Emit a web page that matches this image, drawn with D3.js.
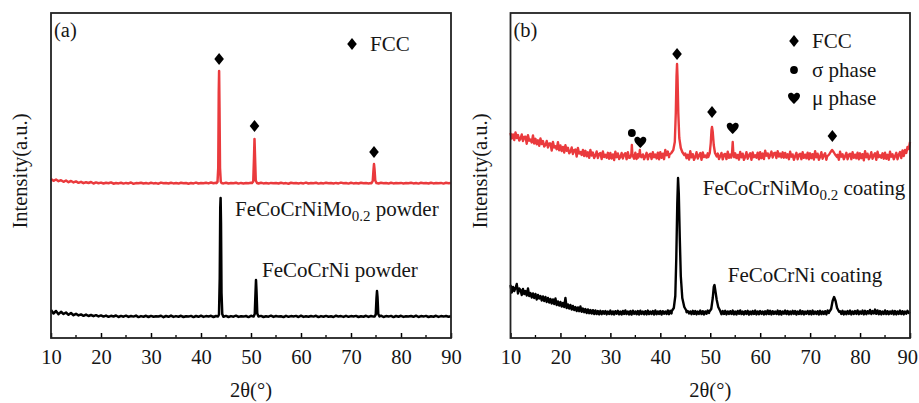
<!DOCTYPE html>
<html><head><meta charset="utf-8">
<script src="https://cdn.jsdelivr.net/npm/d3@7"></script>
<style>
html,body{margin:0;padding:0;background:#fff;}
svg text{font-family:"Liberation Serif","Times New Roman",serif;fill:#161616;}
</style></head>
<body><svg id="c" width="919" height="403"></svg>
<script>
// ---------- DATA ----------
const xTicks = [10,20,30,40,50,60,70,80,90];
const gridStart = 10, gridEnd = 90;     // 2θ range (°)
const stepA = 0.5, stepB = 0.25;        // sampling step of the baseline arrays

// Panel (a) – FeCoCrNiMo0.2 powder (red), 0.5° step
const redA_base = [
1590,1572,1585,1568,1578,1562,1575,1558,1570,1556,
1566,1552,1562,1548,1558,1550,1560,1545,1556,1548,
1554,1545,1552,1547,1556,1543,1550,1546,1553,1544,
1551,1546,1555,1542,1549,1547,1553,1545,1550,1544,
1552,1546,1549,1543,1554,1547,1550,1545,1552,1546,
1549,1544,1553,1547,1550,1543,1551,1546,1554,1545,
1550,1547,1552,1546,1555,1548,1553,1547,1550,1546,
1552,1545,1549,1547,1553,1544,1551,1546,1550,1548,
1553,1548,1550,1545,1552,1546,1549,1544,1551,1547,
1550,1545,1553,1546,1549,1543,1552,1547,1550,1545,
1551,1546,1554,1545,1549,1547,1552,1544,1550,1546,
1553,1547,1549,1545,1551,1546,1554,1548,1550,1544,
1552,1546,1550,1545,1553,1547,1549,1546,1551,1548,
1550,1545,1552,1547,1549,1544,1553,1546,1550,1547,
1551,1545,1549,1548,1553,1546,1550,1544,1552,1547,
1549,1545,1553,1546,1550,1547,1551,1544,1552,1548,
1550];
const redA_peaks = [
 [[43.1,1548],[43.3,1560],[43.45,1700],[43.55,2450],[43.62,2670],[43.7,2300],[43.8,1700],[43.95,1565],[44.1,1550]],
 [[50.2,1549],[50.45,1565],[50.6,1800],[50.7,1990],[50.8,1820],[50.95,1575],[51.2,1550]],
 [[74.1,1548],[74.35,1570],[74.5,1680],[74.6,1740],[74.7,1690],[74.85,1575],[75.1,1549]]
];
// Panel (a) – FeCoCrNi powder (black), 0.5° step
const blackA_base = [
280,245,270,238,262,240,255,232,250,228,
242,226,236,222,234,220,230,218,228,216,
226,214,224,212,222,215,225,210,221,213,
223,211,220,214,224,209,219,213,222,210,
221,212,218,215,223,208,220,212,224,211,
219,213,222,210,218,214,221,209,220,212,
223,211,219,214,222,210,220,213,218,212,
221,210,219,213,223,211,218,214,220,209,
222,212,219,215,221,210,218,213,223,211,
220,214,218,209,222,212,219,215,221,210,
223,211,218,213,220,214,222,209,219,212,
221,213,218,210,223,214,219,211,222,212,
219,215,221,210,218,213,222,211,220,214,
218,212,223,210,219,214,221,209,220,213,
222,211,218,215,220,212,223,210,219,214,
221,210,218,213,222,211,219,214,220,212,
218];
const blackA_peaks = [
 [[43.4,215],[43.6,235],[43.75,600],[43.85,1300],[43.92,1400],[44.0,1150],[44.1,450],[44.25,240],[44.45,216]],
 [[50.5,214],[50.75,240],[50.9,450],[51.0,580],[51.1,470],[51.25,245],[51.5,215]],
 [[74.7,214],[74.95,235],[75.1,400],[75.2,470],[75.3,410],[75.45,240],[75.7,215]]
];
// Panel (b) – FeCoCrNiMo0.2 coating (red), 0.25° step (4 values per degree, 10°..89.75°, then 90°)
const redB_base = [
2050,1995,2035,1980, 2055,2000,2030,1975, 1995,2035,1970,2010, 2013,1943,2028,1973,
1985,1955,2025,1945, 1992,1937,1977,1922, 1995,1940,1970,1915, 1930,1970,1905,1945,
1945,1875,1960,1905, 1918,1888,1958,1878, 1925,1870,1910,1855, 1927,1872,1902,1847,
1865,1905,1840,1880, 1885,1815,1900,1845, 1860,1830,1880,1820, 1872,1817,1857,1802,
1880,1825,1855,1800, 1825,1865,1800,1840, 1850,1790,1865,1810, 1832,1802,1852,1792,
1850,1795,1835,1780, 1862,1808,1845,1790, 1812,1850,1795,1835, 1848,1788,1858,1802,
1828,1803,1846,1793, 1853,1790,1838,1784, 1860,1815,1836,1788, 1818,1852,1786,1833,
1842,1790,1857,1808, 1834,1796,1853,1787, 1858,1802,1843,1788, 1880,1828,1864,1808,
1848,1882,1824,1862, 1878,1822,1892,1842, 1834,1804,1852,1792, 1846,1798,1832,1785,
1868,1806,1838,1781, 1811,1858,1794,1827, 1849,1782,1856,1809, 1826,1804,1847,1793,
1853,1791,1839,1783, 1858,1813,1844,1789, 1819,1851,1786,1834, 1841,1789,1863,1802,
1835,1797,1846,1794, 1847,1799,1831,1784, 1861,1807,1843,1781, 1812,1859,1793,1826,
1848,1781,1855,1808, 1827,1803,1854,1786, 1858,1798,1844,1789, 1872,1823,1846,1798,
1830,1864,1805,1846, 1853,1800,1868,1814, 1844,1806,1857,1803, 1851,1803,1837,1788,
1862,1813,1836,1782, 1818,1852,1787,1833, 1842,1788,1857,1801, 1833,1797,1853,1787,
1847,1798,1838,1784, 1868,1807,1843,1782, 1812,1858,1793,1827, 1848,1782,1863,1808,
1827,1803,1847,1793, 1853,1792,1832,1783, 1862,1813,1837,1788, 1818,1852,1787,1833,
1842,1788,1857,1802, 1833,1797,1853,1787, 1847,1798,1838,1777, 1868,1807,1843,1788,
1812,1858,1793,1827, 1848,1782,1863,1808, 1827,1803,1847,1793, 1853,1792,1832,1783,
1862,1813,1837,1788, 1818,1852,1787,1833, 1860,1800,1875,1820, 1880,1850,1910,1890,
1960];
const redB_peaks = [
 [[34.0,1805],[34.2,1840],[34.3,1930],[34.4,1840],[34.6,1810]],
 [[35.6,1805],[35.8,1830],[35.9,1880],[36.0,1830],[36.2,1808]],
 [[41.8,1830],[42.2,1850],[42.6,1880],[42.9,1960],[43.1,2250],[43.25,2620],[43.35,2740],[43.45,2600],[43.6,2250],[43.8,2000],[44.1,1900],[44.4,1860],[44.8,1830]],
 [[49.6,1810],[49.9,1850],[50.1,1950],[50.25,2080],[50.35,2110],[50.5,2060],[50.7,1930],[50.95,1850],[51.3,1815]],
 [[54.2,1805],[54.35,1840],[54.5,1960],[54.62,1850],[54.8,1808]],
 [[73.4,1815],[73.8,1835],[74.1,1860],[74.4,1880],[74.7,1860],[75.0,1835],[75.4,1810]]
];
// Panel (b) – FeCoCrNi coating (black), 0.25° step
const blackB_base = [
530,455,510,470, 500,540,445,495, 480,430,490,440, 470,425,495,420,
450,405,445,400, 440,385,430,395, 420,375,415,370, 410,360,400,355,
390,345,385,340, 395,330,365,325, 360,315,350,310, 400,300,335,295,
330,285,320,280, 310,270,305,268, 315,262,295,258, 290,250,285,248,
280,245,278,240, 275,240,270,236, 272,238,268,242, 270,236,265,240,
274,238,266,235, 268,242,272,237, 265,235,270,240, 276,240,264,236,
269,234,273,241, 266,238,270,235, 273,240,265,237, 268,236,274,239,
264,241,270,235, 275,238,266,240, 270,235,268,242, 265,240,276,238,
272,245,280,260, 270,240,268,242, 266,238,272,240, 275,258,270,245,
266,238,272,240, 270,236,265,241, 274,239,268,235, 266,242,275,250,
270,240,268,242, 266,238,272,240, 265,238,270,240, 272,236,266,241,
268,240,274,237, 265,235,270,242, 276,239,264,236, 268,241,272,235,
264,238,270,240, 274,236,266,238, 270,241,265,235, 267,238,275,240,
272,236,268,241, 265,240,274,237, 270,235,266,242, 274,240,270,236,
266,238,272,241, 270,235,265,240, 276,239,268,236, 264,242,271,238,
269,236,274,240, 265,241,268,235, 272,238,266,240, 268,236,275,250,
270,240,268,242, 266,238,272,240, 268,240,272,236, 265,238,270,241,
274,236,266,240, 270,241,276,238, 266,242,274,237, 272,238,268,245,
280,240,270,246, 284,242,276,238, 270,236,265,241, 276,240,268,238,
266,242,272,237, 270,236,266,241, 274,240,268,236, 265,242,272,250,
262];
const blackB_peaks = [
 [[42.3,270],[42.7,300],[43.0,420],[43.2,800],[43.4,1350],[43.55,1600],[43.7,1450],[43.9,1000],[44.1,620],[44.4,400],[44.8,310],[45.2,275]],
 [[49.8,262],[50.2,290],[50.5,400],[50.7,510],[50.85,530],[51.0,480],[51.3,380],[51.6,310],[52.0,270]],
 [[73.8,258],[74.2,290],[74.5,370],[74.8,410],[75.1,370],[75.4,300],[75.8,262]]
];
// phase markers [2θ, intensity]
const fccA = [[43.62,2790],[50.7,2120],[74.6,1860]];
const fccB = [[43.35,2840],[50.35,2260],[74.45,2020]];
const sigmaB = [[34.3,2050]];
const muB = [[36.0,1960],[54.5,2100]];

// ---------- LAYOUT ----------
const svg = d3.select("#c");
const red = "#ea3a3d";
const W = 919;
const panels = [
  {left:51, right:451, letter:"(a)", ylabX:20,
   series:[{base:redA_base,step:stepA,peaks:redA_peaks,color:red,w:2.5},{base:blackA_base,step:stepA,peaks:blackA_peaks,color:"#000",w:2.5}],
   labels:[{x:46.8,y:1220,main:"FeCoCrNiMo",sub:"0.2",rest:" powder"},{x:52.2,y:613,main:"FeCoCrNi powder"}],
   markers:[{pts:fccA,type:"diamond"}],
   legend:[{type:"diamond",label:"FCC",dx:352,dy:44}]
  },
  {left:510.5, right:910, letter:"(b)", ylabX:480,
   series:[{base:redB_base,step:stepB,peaks:redB_peaks,color:red,w:2.4},{base:blackB_base,step:stepB,peaks:blackB_peaks,color:"#000",w:2.4}],
   labels:[{x:48.5,y:1430,main:"FeCoCrNiMo",sub:"0.2",rest:" coating"},{x:53.5,y:563,main:"FeCoCrNi coating"}],
   markers:[{pts:fccB,type:"diamond"},{pts:sigmaB,type:"circle"},{pts:muB,type:"heart"}],
   legend:[{type:"diamond",label:"FCC",dx:794,dy:41},{type:"circle",label:"σ phase",dx:794,dy:70},{type:"heart",label:"μ phase",dx:794,dy:98}]
  }
];
const plotTop = 13, plotBottom = 338;

function buildSeries(base, step, peaks){
  let pts = base.map((v,i)=>[gridStart + i*step, v]);
  peaks.forEach(pk=>{
    const lo = pk[0][0], hi = pk[pk.length-1][0];
    pts = pts.filter(p=>p[0] < lo || p[0] > hi);
    pts = pts.concat(pk);
  });
  return pts.sort((a,b)=>a[0]-b[0]);
}

function drawMarker(g, type, cx, cy){
  if(type==="diamond"){
    g.append("path").attr("d",`M${cx},${cy-6} L${cx+4.8},${cy} L${cx},${cy+6} L${cx-4.8},${cy} Z`).attr("fill","#000");
  } else if(type==="circle"){
    g.append("circle").attr("cx",cx).attr("cy",cy).attr("r",3.9).attr("fill","#000");
  } else {
    const s=1.0;
    g.append("path").attr("d",
      `M${cx},${cy+6*s} C${cx-3*s},${cy+3*s} ${cx-6*s},${cy+0.5*s} ${cx-6*s},${cy-2.5*s}
       C${cx-6*s},${cy-5.5*s} ${cx-2*s},${cy-6.5*s} ${cx},${cy-3.5*s}
       C${cx+2*s},${cy-6.5*s} ${cx+6*s},${cy-5.5*s} ${cx+6*s},${cy-2.5*s}
       C${cx+6*s},${cy+0.5*s} ${cx+3*s},${cy+3*s} ${cx},${cy+6*s} Z`).attr("fill","#000");
  }
}

panels.forEach(P=>{
  const x = d3.scaleLinear().domain([gridStart,gridEnd]).range([P.left,P.right]);
  const y = d3.scaleLinear().domain([0,3250]).range([plotBottom,plotTop]);
  const g = svg.append("g");
  const line = d3.line().x(d=>x(d[0])).y(d=>y(d[1]));

  P.series.forEach(s=>{
    g.append("path").datum(buildSeries(s.base,s.step,s.peaks))
      .attr("d",line).attr("fill","none").attr("stroke",s.color)
      .attr("stroke-width",s.w).attr("stroke-linejoin","round");
  });

  // axis ticks (inward) + labels
  const ax = d3.axisBottom(x).tickValues(xTicks).tickSize(-5).tickPadding(11).tickFormat(d3.format("d"));
  const axg = g.append("g").attr("transform",`translate(0,${plotBottom})`).call(ax);
  axg.select(".domain").remove();
  axg.selectAll("line").attr("stroke","#000").attr("stroke-width",1.5);
  axg.selectAll("text").attr("font-size",20.5).attr("fill","#161616");
  // keep the last label inside the page
  axg.selectAll("text").each(function(){
    const bb = this.getBBox();
    const tr = this.parentNode.getAttribute("transform");
    const tx = +tr.match(/translate\(([-\d.]+)/)[1];
    const over = tx + bb.x + bb.width - (W - 1);
    if(over > 0) d3.select(this).attr("x", -over);
  });
  const minor = d3.range(15,90,10);
  g.selectAll(".minor").data(minor).enter().append("line")
    .attr("x1",d=>x(d)).attr("x2",d=>x(d)).attr("y1",plotBottom).attr("y2",plotBottom-3)
    .attr("stroke","#000").attr("stroke-width",1.3);

  // frame
  g.append("rect").attr("x",P.left).attr("y",plotTop).attr("width",P.right-P.left).attr("height",plotBottom-plotTop)
    .attr("fill","none").attr("stroke","#222").attr("stroke-width",1.8);

  // axis titles
  g.append("text").attr("x",(P.left+P.right)/2).attr("y",397).attr("text-anchor","middle")
    .attr("font-size",20.5).text("2θ(°)");
  g.append("text").attr("transform",`translate(${P.ylabX},171) rotate(-90)`).attr("text-anchor","middle")
    .attr("dominant-baseline","central").attr("font-size",20.5).text("Intensity(a.u.)");

  // panel letter
  g.append("text").attr("x",P.left+3).attr("y",37).attr("font-size",20.5).text(P.letter);

  // curve labels
  P.labels.forEach(L=>{
    const t = g.append("text").attr("x",x(L.x)).attr("y",y(L.y)).attr("font-size",21);
    t.append("tspan").text(L.main);
    if(L.sub){
      t.append("tspan").attr("font-size",15).attr("dy",5).text(L.sub);
      t.append("tspan").attr("dy",-5).text(L.rest);
    }
  });

  // markers
  P.markers.forEach(M=>M.pts.forEach(p=>drawMarker(g,M.type,x(p[0]),y(p[1]))));

  // legend
  P.legend.forEach(L=>{
    drawMarker(g,L.type,L.dx,L.dy);
    g.append("text").attr("x",L.dx+18).attr("y",L.dy).attr("dominant-baseline","central")
      .attr("font-size",21).text(L.label);
  });
});
</script></body></html>
